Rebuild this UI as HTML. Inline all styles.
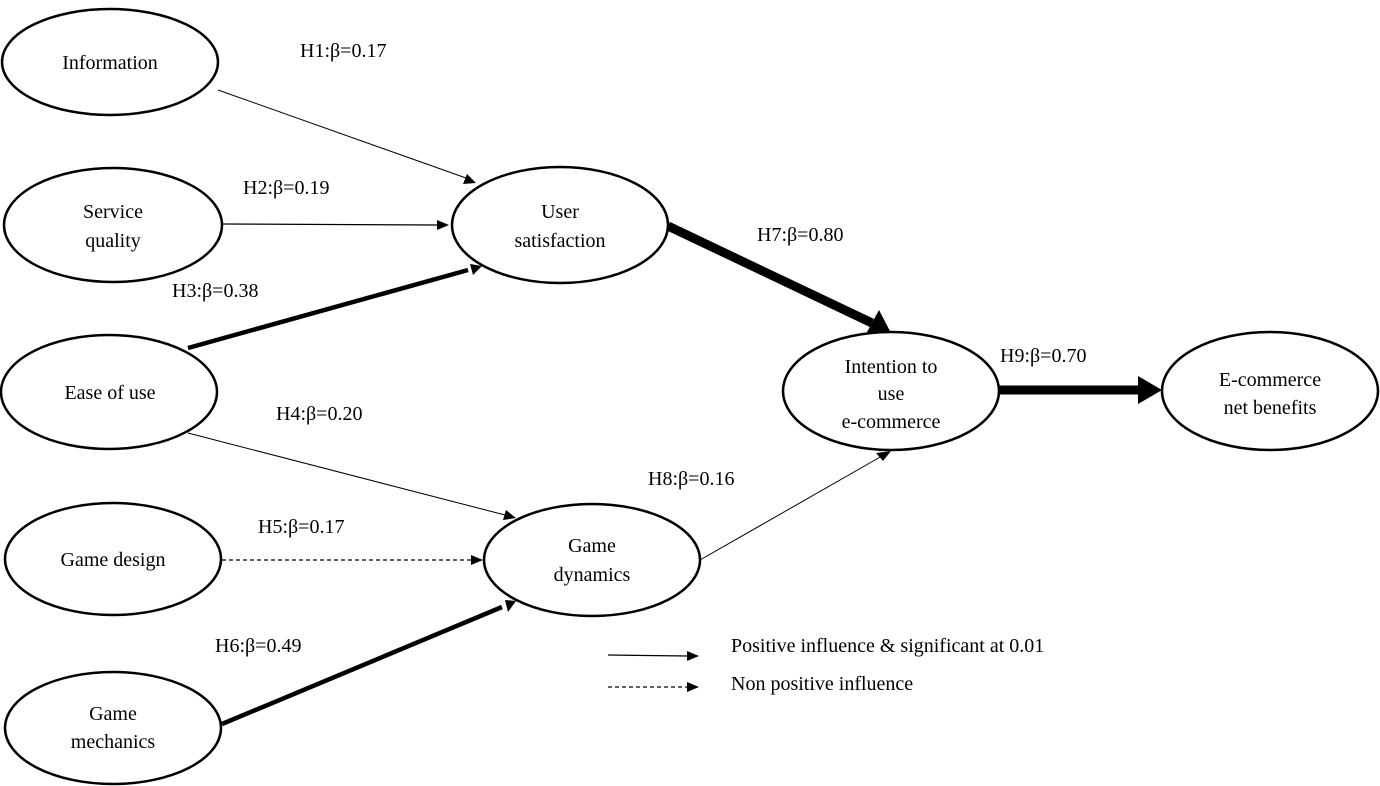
<!DOCTYPE html>
<html><head><meta charset="utf-8"><style>
html,body{margin:0;padding:0;background:#fff;}
svg{display:block;}
text{font-family:"Liberation Serif",serif;font-size:20px;fill:#000;}
</style></head><body>
<svg width="1380" height="786" viewBox="0 0 1380 786" xmlns="http://www.w3.org/2000/svg">
<g fill="#fff" stroke="#000" stroke-width="2.5">
<ellipse cx="110" cy="62" rx="108" ry="53"/>
<ellipse cx="113" cy="225" rx="109" ry="57"/>
<ellipse cx="109" cy="392" rx="108" ry="57"/>
<ellipse cx="113" cy="559" rx="108" ry="56"/>
<ellipse cx="113" cy="728" rx="108" ry="56"/>
<ellipse cx="560" cy="225" rx="108" ry="58"/>
<ellipse cx="592" cy="560" rx="108" ry="56"/>
<ellipse cx="891" cy="391" rx="108" ry="59"/>
<ellipse cx="1270" cy="391" rx="108" ry="59"/>
</g>
<g stroke="#000" fill="none">
<line x1="218" y1="90" x2="466" y2="178" stroke-width="1"/>
<line x1="222" y1="224" x2="438" y2="225" stroke-width="1.2"/>
<line x1="188" y1="348" x2="468" y2="270" stroke-width="4.5"/>
<line x1="188" y1="433" x2="505" y2="515" stroke-width="1"/>
<line x1="222" y1="560" x2="472" y2="560" stroke-width="1.2" stroke-dasharray="4,3"/>
<line x1="222" y1="724" x2="502" y2="607" stroke-width="4.5"/>
<line x1="668" y1="226" x2="872" y2="323" stroke-width="9"/>
<line x1="700" y1="560" x2="882" y2="456" stroke-width="1"/>
<line x1="999" y1="390" x2="1138" y2="390" stroke-width="9"/>
<line x1="608" y1="655" x2="688" y2="656" stroke-width="1.2"/>
<line x1="608" y1="687" x2="688" y2="687" stroke-width="1.2" stroke-dasharray="4,3"/>
</g>
<g fill="#000">
<polygon points="476,183 463,184 467,174"/>
<polygon points="449,225 437,220 437,230"/>
<polygon points="482,266 470,264 473,275"/>
<polygon points="516,518 503,520 506,510"/>
<polygon points="483,560 471,555 471,565"/>
<polygon points="516,601 505,600 508,612"/>
<polygon points="891,333 879,310 866,334"/>
<polygon points="891,451 876,453 883,461"/>
<polygon points="1162,390 1138,376 1138,404"/>
<polygon points="699,656 687,651 687,661"/>
<polygon points="699,687 687,682 687,692"/>
</g>
<g text-anchor="middle">
<text x="110" y="69">Information</text>
<text x="113" y="218">Service</text>
<text x="113" y="247">quality</text>
<text x="110" y="399">Ease of use</text>
<text x="113" y="566">Game design</text>
<text x="113" y="720">Game</text>
<text x="113" y="748">mechanics</text>
<text x="560" y="218">User</text>
<text x="560" y="247">satisfaction</text>
<text x="592" y="552">Game</text>
<text x="592" y="581">dynamics</text>
<text x="891" y="373">Intention to</text>
<text x="891" y="400">use</text>
<text x="891" y="428">e-commerce</text>
<text x="1270" y="386">E-commerce</text>
<text x="1270" y="414">net benefits</text>
</g>
<g>
<text x="300" y="57">H1:β=0.17</text>
<text x="243" y="194">H2:β=0.19</text>
<text x="172" y="297">H3:β=0.38</text>
<text x="276" y="420">H4:β=0.20</text>
<text x="258" y="533">H5:β=0.17</text>
<text x="215" y="652">H6:β=0.49</text>
<text x="757" y="241">H7:β=0.80</text>
<text x="648" y="485">H8:β=0.16</text>
<text x="1000" y="362">H9:β=0.70</text>
<text x="731" y="652">Positive influence &amp; significant at 0.01</text>
<text x="731" y="690">Non positive influence</text>
</g>
</svg>
</body></html>
